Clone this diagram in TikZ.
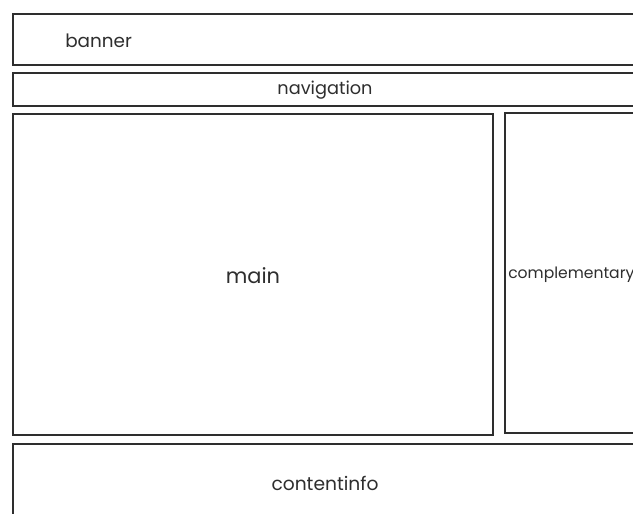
\documentclass[tikz,border=0pt]{standalone}
\usepackage{fontspec}
\setmainfont{Poppins}
\definecolor{ink}{HTML}{2E2E2E}
\begin{document}
\begin{tikzpicture}[x=0.75pt,y=-0.75pt,
  region/.style={draw=ink,line width=1.6pt,rectangle,inner sep=0pt,anchor=north west},
  lbl/.style={text=ink,inner sep=0pt}]
\useasboundingbox (0,0) rectangle (633,514);
\fill[white] (0,0) rectangle (633,514);
\clip (0,0) rectangle (633,514);
\draw[region] (13,14) rectangle (660,65);
\node[lbl,anchor=west,font=\fontsize{13.8}{16}\selectfont] (banner) at (65,41) {banner};
\draw[region] (13,73) rectangle (660,106);
\node[lbl,font=\fontsize{13.3}{16}\selectfont] (nav) at (325,90) {navigation};
\draw[region] (13,114) rectangle (493,435);
\node[lbl,font=\fontsize{15.7}{18}\selectfont] (main) at (253,276) {main};
\draw[region] (505,113) rectangle (660,433);
\node[lbl,anchor=west,font=\fontsize{11.7}{14}\selectfont] (comp) at (508,275) {complementary};
\draw[region] (13,444) rectangle (660,540);
\node[lbl,font=\fontsize{14}{16}\selectfont] (info) at (325,483) {contentinfo};
\end{tikzpicture}
\end{document}
